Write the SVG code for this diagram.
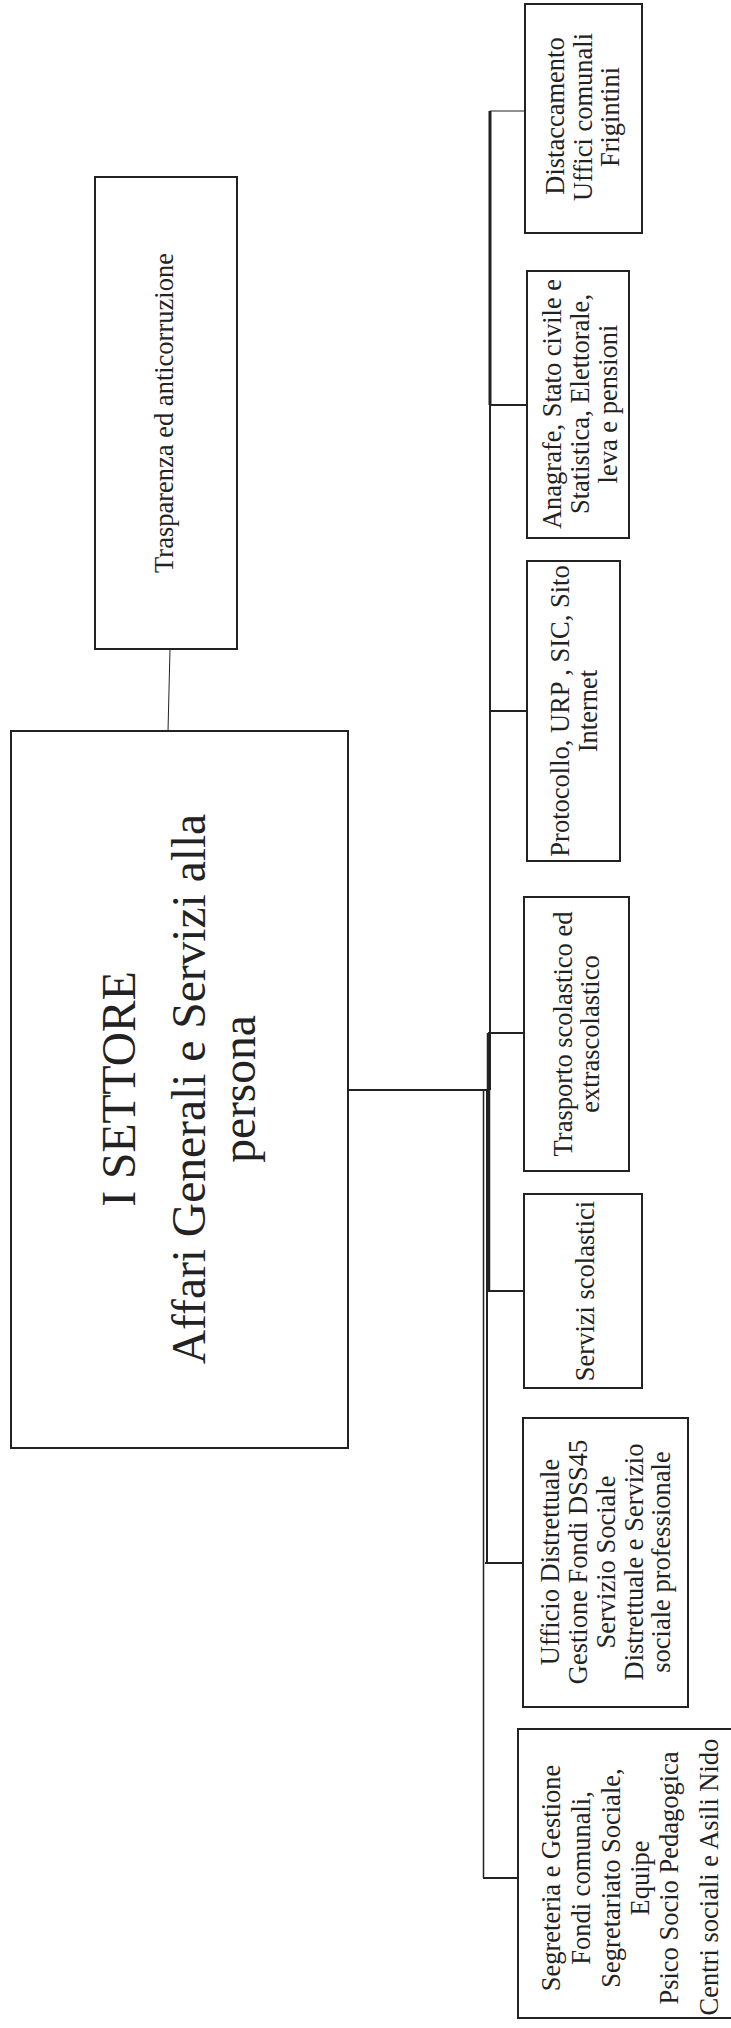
<svg xmlns="http://www.w3.org/2000/svg" width="731" height="2028" viewBox="0 0 731 2028">
<style>
.box{fill:#fff;stroke:#222;stroke-width:2}
.t{font-family:"Liberation Serif","Times New Roman",serif;font-size:26.5px;fill:#222;text-anchor:middle}
.big{font-family:"Liberation Serif","Times New Roman",serif;font-size:47.5px;fill:#222;text-anchor:middle}
.c{stroke:#222;stroke-width:2;fill:none}
</style>
<rect width="731" height="2028" fill="#fff"/>
<g id="connectors">
<line class="c" x1="170" y1="649" x2="168" y2="731" style="stroke-width:1"/>
<line class="c" x1="348" y1="1090" x2="490" y2="1090"/>
<line class="c" x1="490" y1="111" x2="490" y2="405" style="stroke-width:3"/>
<line class="c" x1="490" y1="405" x2="490" y2="1090"/>
<line class="c" x1="488.5" y1="1033" x2="488.5" y2="1291" style="stroke-width:3.5"/>
<line class="c" x1="487" y1="1090" x2="487" y2="1563"/>
<line class="c" x1="483.5" y1="1090" x2="483.5" y2="1878" style="stroke-width:1.5"/>
<line class="c" x1="490" y1="111" x2="536" y2="111" style="stroke-width:1"/>
<line class="c" x1="490" y1="405" x2="527" y2="405"/>
<line class="c" x1="490" y1="711" x2="527" y2="711"/>
<line class="c" x1="488" y1="1033" x2="524" y2="1033"/>
<line class="c" x1="488" y1="1291" x2="524" y2="1291"/>
<line class="c" x1="485" y1="1563" x2="523" y2="1563"/>
<line class="c" x1="483" y1="1878" x2="518" y2="1878"/>
</g>
<g id="trasparenza">
<rect class="box" x="95" y="177" width="142" height="472"/>
<text class="t" x="173" y="413" transform="rotate(-90 173 413)">Trasparenza ed anticorruzione</text>
</g>
<g id="settore">
<rect class="box" x="11" y="731" width="337" height="717"/>
<text class="big" x="135" y="1089" transform="rotate(-90 135 1089)">I SETTORE</text>
<text class="big" x="205" y="1089" transform="rotate(-90 205 1089)">Affari Generali e Servizi alla</text>
<text class="big" x="255" y="1089" transform="rotate(-90 255 1089)">persona</text>
</g>
<g id="distaccamento">
<rect class="box" x="525" y="4" width="117" height="229"/>
<text class="t" x="564" y="116" transform="rotate(-90 564 116)">Distaccamento</text>
<text class="t" x="592" y="117" transform="rotate(-90 592 117)">Uffici comunali</text>
<text class="t" x="619" y="117" transform="rotate(-90 619 117)">Frigintini</text>
</g>
<g id="anagrafe">
<rect class="box" x="527" y="271" width="102" height="267"/>
<text class="t" x="561" y="404" transform="rotate(-90 561 404)">Anagrafe, Stato civile e</text>
<text class="t" x="589" y="404" transform="rotate(-90 589 404)">Statistica, Elettorale,</text>
<text class="t" x="617" y="404" transform="rotate(-90 617 404)">leva e pensioni</text>
</g>
<g id="protocollo">
<rect class="box" x="527" y="561" width="93" height="300"/>
<text class="t" x="569" y="711" transform="rotate(-90 569 711)">Protocollo, URP , SIC, Sito</text>
<text class="t" x="597" y="711" transform="rotate(-90 597 711)">Internet</text>
</g>
<g id="trasporto">
<rect class="box" x="524" y="897" width="105" height="274"/>
<text class="t" x="572" y="1034" transform="rotate(-90 572 1034)">Trasporto scolastico ed</text>
<text class="t" x="599" y="1034" transform="rotate(-90 599 1034)">extrascolastico</text>
</g>
<g id="servizi-scolastici">
<rect class="box" x="524" y="1194" width="118" height="194"/>
<text class="t" x="594" y="1291" transform="rotate(-90 594 1291)">Servizi scolastici</text>
</g>
<g id="ufficio-distrettuale">
<rect class="box" x="523" y="1418" width="165" height="289"/>
<text class="t" x="559" y="1562" transform="rotate(-90 559 1562)">Ufficio Distrettuale</text>
<text class="t" x="587" y="1562" transform="rotate(-90 587 1562)">Gestione Fondi DSS45</text>
<text class="t" x="615" y="1562" transform="rotate(-90 615 1562)">Servizio Sociale</text>
<text class="t" x="643" y="1562" transform="rotate(-90 643 1562)">Distrettuale e Servizio</text>
<text class="t" x="670" y="1562" transform="rotate(-90 670 1562)">sociale professionale</text>
</g>
<g id="segreteria">
<rect class="box" x="518" y="1729" width="220" height="289"/>
<text class="t" x="560" y="1878" transform="rotate(-90 560 1878)">Segreteria e Gestione</text>
<text class="t" x="590" y="1878" transform="rotate(-90 590 1878)">Fondi comunali,</text>
<text class="t" x="620" y="1878" transform="rotate(-90 620 1878)">Segretariato Sociale,</text>
<text class="t" x="649" y="1878" transform="rotate(-90 649 1878)">Equipe</text>
<text class="t" x="678" y="1878" transform="rotate(-90 678 1878)">Psico Socio Pedagogica</text>
<text class="t" x="718" y="1877" transform="rotate(-90 718 1877)">Centri sociali e Asili Nido</text>
</g>
</svg>
